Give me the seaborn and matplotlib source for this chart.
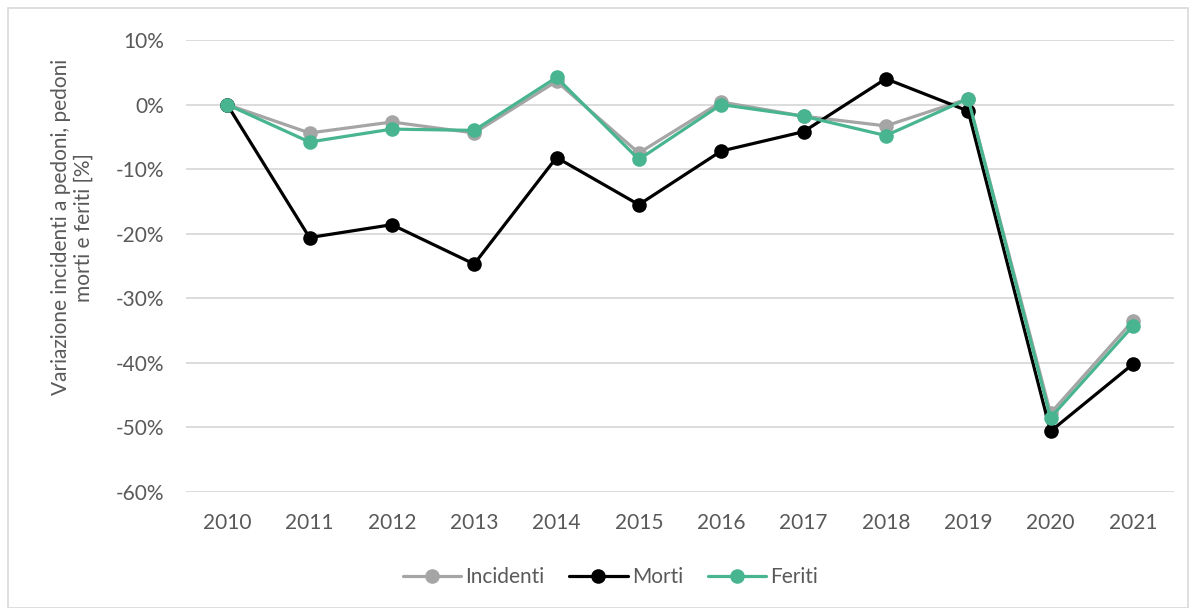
import pandas as pd
import matplotlib
matplotlib.use("Agg")
import matplotlib.pyplot as plt
import seaborn as sns
from matplotlib.patches import Rectangle

years = [2010, 2011, 2012, 2013, 2014, 2015, 2016, 2017, 2018, 2019, 2020, 2021]
incidenti = [0.0, -4.4, -2.7, -4.4, 3.6, -7.5, 0.4, -1.8, -3.3, 0.9, -47.8, -33.5]
morti = [0.0, -20.6, -18.6, -24.7, -8.2, -15.5, -7.2, -4.2, 4.0, -1.0, -50.6, -40.2]
feriti = [0.0, -5.8, -3.8, -4.0, 4.2, -8.5, 0.0, -1.8, -4.8, 0.9, -48.5, -34.3]
series_names = ["Incidenti", "Morti", "Feriti"]
y_ticks = [10, 0, -10, -20, -30, -40, -50, -60]

df = pd.DataFrame({"Anno": years, "Incidenti": incidenti, "Morti": morti, "Feriti": feriti})
df = df.melt(id_vars="Anno", var_name="Serie", value_name="Variazione")

sns.set_style("white")
plt.rcParams["font.family"] = ["Lato", "DejaVu Sans"]
text_col = "#595959"

fig = plt.figure(figsize=(11.92, 6.08), dpi=100)
ax = fig.add_axes([186 / 1192, 1 - 492 / 608, 988 / 1192, 452 / 608])

palette = {"Incidenti": "#A5A5A5", "Morti": "#000000", "Feriti": "#48B590"}
sns.lineplot(data=df, x="Anno", y="Variazione", hue="Serie", hue_order=series_names,
             palette=palette, marker="o", markersize=10.5, markeredgewidth=0,
             linewidth=2.3, ax=ax)

ax.set_xlim(2009.5, 2021.5)
ax.set_ylim(-60, 10)
ax.set_xticks(years)
ax.set_xticklabels([str(y) for y in years])
ax.set_yticks(y_ticks)
ax.set_yticklabels([f"{t}%" for t in y_ticks])
ax.grid(axis="y", color="#d9d9d9", linewidth=1.3)
ax.set_axisbelow(True)
for s in ax.spines.values():
    s.set_visible(False)
ax.tick_params(axis="both", length=0, labelsize=15, colors=text_col)
ax.tick_params(axis="x", pad=15)
ax.tick_params(axis="y", pad=16)

ax.set_xlabel("")
ax.set_ylabel("Variazione incidenti a pedoni, pedoni\nmorti e feriti [%]",
              fontsize=15, color=text_col, va="center", multialignment="center",
              linespacing=1.2)
ax.yaxis.set_label_coords(-0.115, 0.586)

handles, labels = ax.get_legend_handles_labels()
ax.legend(handles, labels, loc="center", bbox_to_anchor=(0.512, 0.051),
          bbox_transform=fig.transFigure, ncol=3, frameon=False,
          fontsize=15, labelcolor=text_col, handlelength=2.8,
          handletextpad=0.2, columnspacing=1.2)

fig.patches.append(Rectangle((8 / 1192, 0.0), 1180 / 1192, 1 - 8 / 608,
                             transform=fig.transFigure, fill=False,
                             edgecolor="#d9d9d9", linewidth=1.2))

fig.savefig("out.png", dpi=100)
